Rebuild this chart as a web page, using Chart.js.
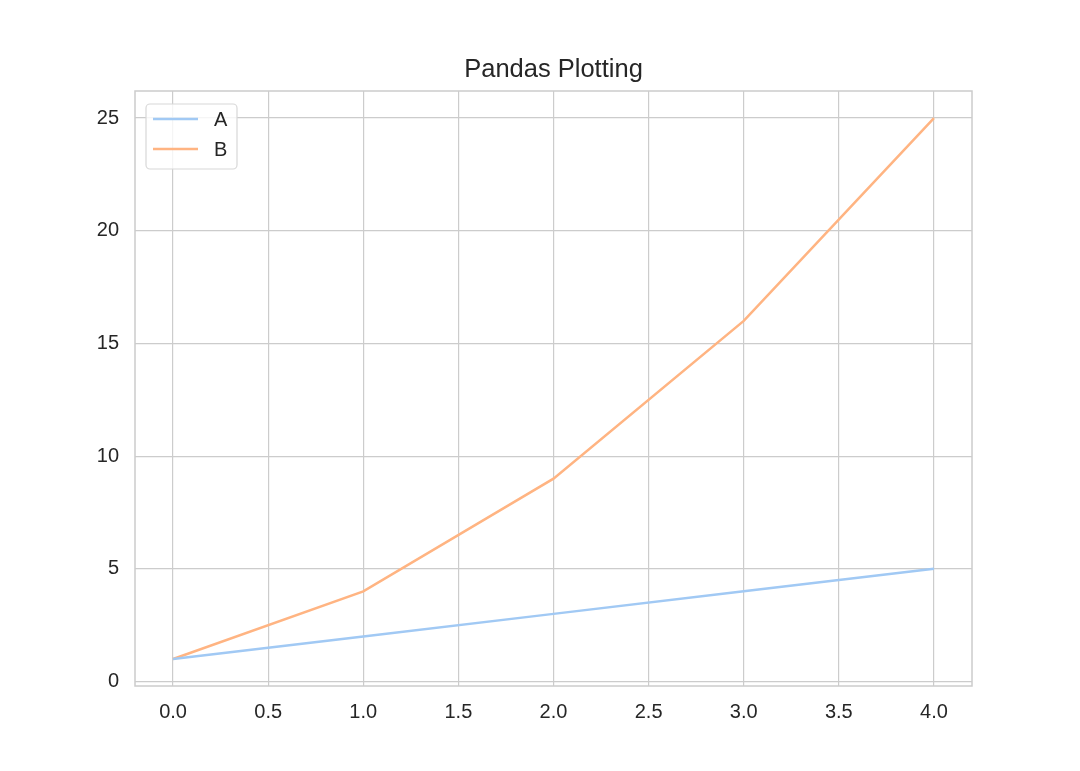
<!DOCTYPE html>
<html>
<head>
<meta charset="utf-8">
<script src="https://cdn.jsdelivr.net/npm/chart.js@4"></script>
<style>
  html, body { margin: 0; padding: 0; background: #fff; }
  #wrap { width: 1080px; height: 771px; }
</style>
</head>
<body>
<div id="wrap"><canvas id="chart"></canvas></div>
<script>
const xValues = [0, 1, 2, 3, 4];
const seriesA = [1, 2, 3, 4, 5];
const seriesB = [1, 4, 9, 16, 25];
const xTicks = [0, 0.5, 1, 1.5, 2, 2.5, 3, 3.5, 4];
const yTicks = [0, 5, 10, 15, 20, 25];
const chartTitle = 'Pandas Plotting';

const FONT = "'Liberation Sans', Arial, sans-serif";
const TEXT = '#262626';
const GRID = '#cccccc';

function points(ys) {
  return xValues.map((x, i) => ({ x: x, y: ys[i] }));
}

// frame around plot, title centred over the axes, legend inside (top left)
const framePlugin = {
  id: 'frame',
  afterDatasetsDraw(chart) {
    const ctx = chart.ctx;
    const a = chart.chartArea;
    ctx.save();
    ctx.strokeStyle = GRID;
    ctx.lineWidth = 1.5;
    ctx.strokeRect(a.left, a.top, a.right - a.left, a.bottom - a.top);

    ctx.fillStyle = TEXT;
    ctx.font = '25.5px ' + FONT;
    ctx.textAlign = 'center';
    ctx.textBaseline = 'middle';
    ctx.fillText(chartTitle, (a.left + a.right) / 2, a.top - 21);

    // legend
    const x0 = a.left + 11, y0 = a.top + 13, w = 91, h = 65;
    ctx.fillStyle = 'rgba(255,255,255,0.8)';
    ctx.strokeStyle = '#d8d8d8';
    ctx.lineWidth = 1.2;
    ctx.beginPath();
    ctx.roundRect(x0, y0, w, h, 4);
    ctx.fill();
    ctx.stroke();
    ctx.font = '20px ' + FONT;
    ctx.textAlign = 'left';
    chart.data.datasets.forEach((ds, i) => {
      const yy = y0 + 15 + i * 30;
      ctx.strokeStyle = ds.borderColor;
      ctx.lineWidth = 2.5;
      ctx.beginPath();
      ctx.moveTo(x0 + 7, yy);
      ctx.lineTo(x0 + 52, yy);
      ctx.stroke();
      ctx.fillStyle = TEXT;
      ctx.fillText(ds.label, x0 + 68, yy + 1);
    });
    ctx.restore();
  }
};

new Chart(document.getElementById('chart'), {
  type: 'line',
  data: {
    datasets: [
      { label: 'A', data: points(seriesA), borderColor: '#a1c9f4', borderWidth: 2.5, pointRadius: 0, tension: 0 },
      { label: 'B', data: points(seriesB), borderColor: '#ffb482', borderWidth: 2.5, pointRadius: 0, tension: 0 }
    ]
  },
  options: {
    responsive: true,
    maintainAspectRatio: false,
    animation: false,
    layout: { padding: { left: 0, right: 108, top: 91, bottom: 0 } },
    plugins: {
      legend: { display: false },
      tooltip: { enabled: false },
      title: { display: false }
    },
    scales: {
      x: {
        type: 'linear',
        min: -0.2,
        max: 4.2,
        afterBuildTicks: s => { s.ticks = xTicks.map(v => ({ value: v })); },
        afterFit: s => { s.height = 85; },
        grid: { color: GRID, lineWidth: 1.2, drawTicks: false },
        border: { display: false },
        ticks: {
          color: TEXT,
          padding: 14,
          maxRotation: 0,
          font: { family: FONT, size: 20 },
          callback: v => Number(v).toFixed(1)
        }
      },
      y: {
        type: 'linear',
        min: -0.2,
        max: 26.2,
        afterBuildTicks: s => { s.ticks = yTicks.map(v => ({ value: v })); },
        afterFit: s => { s.width = 135; },
        grid: { color: GRID, lineWidth: 1.2, drawTicks: false },
        border: { display: false },
        ticks: {
          color: TEXT,
          padding: 16,
          font: { family: FONT, size: 20 },
          callback: v => String(v)
        }
      }
    }
  },
  plugins: [framePlugin]
});
</script>
</body>
</html>
